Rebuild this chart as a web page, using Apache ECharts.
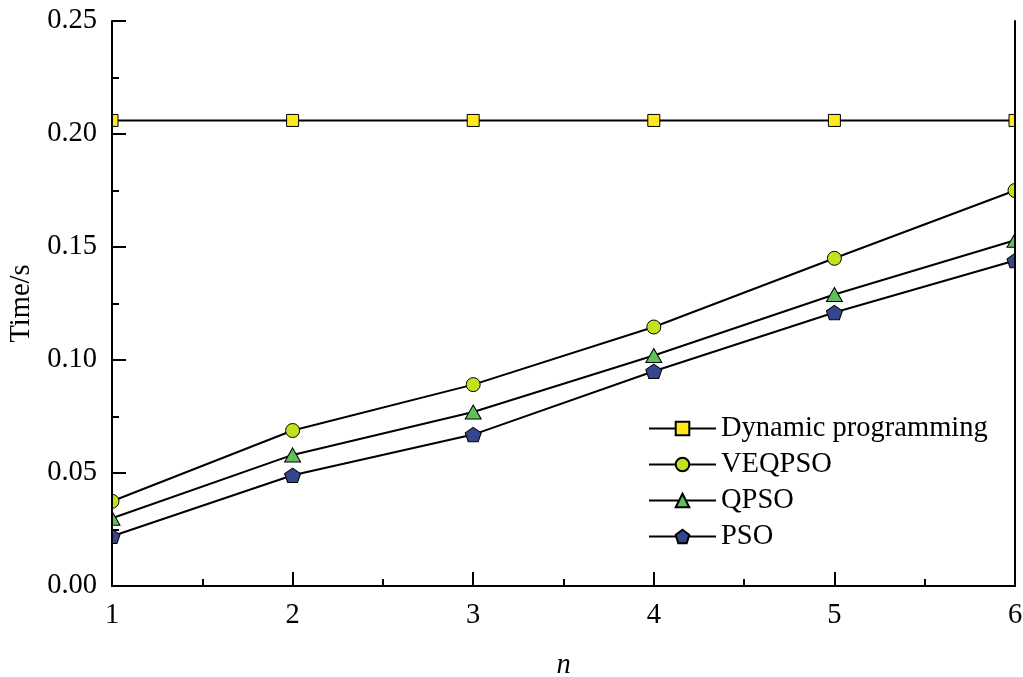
<!DOCTYPE html>
<html>
<head>
<meta charset="utf-8">
<script src="https://cdn.jsdelivr.net/npm/echarts@6/dist/echarts.min.js"></script>
<style>
  html, body { margin: 0; padding: 0; background: #fff; }
  #main { width: 1023px; height: 677px; }
</style>
</head>
<body>
<div id="main"></div>
<script>
// data
const nValues = [1, 2, 3, 4, 5, 6];
const dynamicProg = [0.206, 0.206, 0.206, 0.206, 0.206, 0.206];
const veqpso = [0.0375, 0.0688, 0.0891, 0.1146, 0.145, 0.175];
const qpso = [0.030, 0.058, 0.077, 0.102, 0.129, 0.153];
const pso = [0.022, 0.049, 0.067, 0.095, 0.121, 0.144];

const pentagon = "path://M0,-10L9.51,-3.09L5.88,8.09L-5.88,8.09L-9.51,-3.09Z";
const font = "Liberation Serif";
const fs = 28.5;

const pairs = (ys) => nValues.map((x, i) => [x, ys[i]]);

const makeSeries = (name, ys, symbol, size, color) => ({
  name: name,
  type: "line",
  data: pairs(ys),
  symbol: symbol,
  symbolSize: size,
  symbolKeepAspect: true,
  clip: false,
  z: 2,
  lineStyle: { color: "#000", width: 2 },
  itemStyle: { color: color, borderColor: "#000", borderWidth: 1 },
  emphasis: { disabled: true }
});

const chart = echarts.init(document.getElementById("main"));

const option = {
  animation: false,
  backgroundColor: "#fff",
  textStyle: { fontFamily: font },
  grid: { left: 112, right: 8, top: 21, bottom: 91, outerBoundsMode: "none", containLabel: false },
  // white masks so markers are cut at the frame edges
  graphic: [
    { type: "rect", z: 3, shape: { x: 0, y: 0, width: 111, height: 677 }, style: { fill: "#fff" } },
    { type: "rect", z: 3, shape: { x: 1016, y: 0, width: 10, height: 677 }, style: { fill: "#fff" } }
  ],
  legend: {
    orient: "vertical",
    left: 643,
    top: 409,
    itemWidth: 67,
    itemHeight: 17,
    itemGap: 7,
    z: 4,
    textStyle: { fontFamily: font, fontSize: fs, color: "#000" },
    data: ["Dynamic programming", "VEQPSO", "QPSO", "PSO"]
  },
  xAxis: [
    {
      type: "value",
      min: 1,
      max: 6,
      interval: 1,
      z: 10,
      name: "n",
      nameLocation: "middle",
      nameGap: 65,
      nameTextStyle: { fontFamily: font, fontSize: fs, fontStyle: "italic", color: "#000" },
      axisLine: { lineStyle: { color: "#000", width: 2 } },
      axisTick: { inside: true, length: 14, lineStyle: { color: "#000", width: 2 } },
      minorTick: { show: true, splitNumber: 2, length: 7, lineStyle: { color: "#000", width: 2 } },
      splitLine: { show: false },
      axisLabel: { fontFamily: font, fontSize: fs, color: "#000", margin: 15 }
    },
    {
      type: "value",
      position: "top",
      min: 1,
      max: 6,
      z: 10,
      axisLine: { show: true, lineStyle: { color: "#000", width: 2 } },
      axisTick: { show: false },
      axisLabel: { show: false },
      splitLine: { show: false }
    }
  ],
  yAxis: [
    {
      type: "value",
      min: 0,
      max: 0.25,
      interval: 0.05,
      z: 10,
      name: "Time/s",
      nameLocation: "middle",
      nameGap: 76,
      nameTextStyle: { fontFamily: font, fontSize: fs, color: "#000" },
      axisLine: { show: true, lineStyle: { color: "#000", width: 2 } },
      axisTick: { inside: true, length: 14, lineStyle: { color: "#000", width: 2 } },
      minorTick: { show: true, splitNumber: 2, length: 7, lineStyle: { color: "#000", width: 2 } },
      splitLine: { show: false },
      axisLabel: {
        fontFamily: font,
        fontSize: fs,
        color: "#000",
        margin: 15,
        formatter: (v) => v.toFixed(2)
      }
    },
    {
      type: "value",
      position: "right",
      min: 0,
      max: 0.25,
      z: 10,
      axisLine: { show: true, lineStyle: { color: "#000", width: 2 } },
      axisTick: { show: false },
      axisLabel: { show: false },
      splitLine: { show: false }
    }
  ],
  series: [
    makeSeries("Dynamic programming", dynamicProg, "rect", 12, "#ffe81c"),
    makeSeries("VEQPSO", veqpso, "circle", 14, "#c4e01e"),
    makeSeries("QPSO", qpso, "triangle", [16, 14], "#5ec15a"),
    makeSeries("PSO", pso, pentagon, [16, 15], "#34478c")
  ]
};

chart.setOption(option);
</script>
</body>
</html>
